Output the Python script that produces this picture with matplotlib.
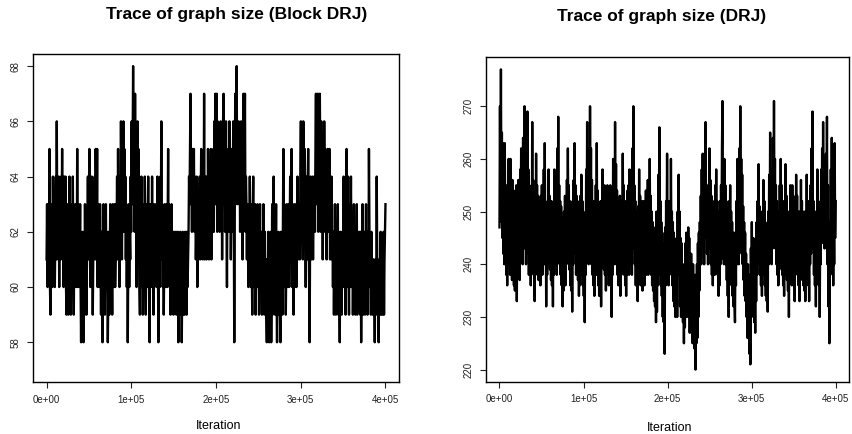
import matplotlib
matplotlib.use("Agg")
import matplotlib.pyplot as plt
import numpy as np

plt.rcParams['font.family'] = ['Liberation Sans', 'DejaVu Sans']

# graph size per stored MCMC sample, Block DRJ sampler
block_drj = [
    61, 63, 60, 62, 63, 61, 65, 60, 59, 62, 61, 63, 60, 64, 62, 61, 63, 60, 62, 64,
    61, 66, 62, 63, 61, 64, 60, 63, 62, 61, 64, 62, 65, 61, 63, 60, 64, 62, 61,
    64, 60, 59, 62, 61, 63, 59, 62, 64, 60, 61, 59, 63, 62, 60, 64, 61, 59, 62, 60,
    63, 61, 62, 60, 65, 61, 63, 60, 62, 61, 63, 60, 58, 61, 59, 62, 60, 58, 61, 59,
    63, 60, 62, 59, 61,
    62, 64, 61, 63, 65, 62, 60, 63, 61, 64, 62, 59, 61, 63, 62, 64, 61, 65, 63, 62,
    65, 60, 63, 61,
    62, 60, 63, 61, 59, 62, 60, 58, 61, 63, 60, 62, 59, 61, 63, 60, 62, 61, 58, 60,
    62, 59, 61, 63, 60, 62, 61, 59, 63, 60, 62, 61, 63, 60,
    61, 63, 62, 64, 61, 65, 62, 63, 60, 64, 62, 66, 63, 61, 64, 62, 66, 63, 65, 62,
    64, 61, 63, 60, 62, 58, 61, 63, 60, 62, 61, 64, 62, 66,
    63, 65, 68, 64, 66, 62, 67, 63, 65, 60, 64, 66, 62, 65,
    62, 60, 59, 63, 61, 64, 60, 62, 59, 61, 63, 60, 64, 62, 59, 61, 63, 60, 62, 64,
    61, 63, 58, 62, 60, 63, 61, 64, 60, 62, 59, 63, 61, 62,
    61, 63, 60, 62, 64, 61, 58, 62, 63, 60, 64, 62, 66, 61, 63, 60, 62, 59, 61, 63,
    60, 62, 61, 63, 60, 62, 65, 61, 63, 60, 62, 59, 61, 63, 60, 62, 61, 59, 62, 60,
    61,
    60, 62, 59, 61, 60, 62, 58, 61, 59, 60, 62, 59, 61, 58, 60, 62, 59, 61, 60, 59,
    62, 60, 61, 59, 62, 60, 61, 62,
    64, 63, 65, 67, 63, 64, 62, 65, 63, 64, 65, 62, 64, 63, 61, 62, 64, 60, 62, 61,
    63,
    62, 64, 61, 63, 65, 62, 64, 61, 63, 62, 67, 61, 64, 62, 63, 61, 64, 62, 65, 63,
    61, 64, 62, 63, 65, 61, 64, 62,
    63, 65, 62, 66, 64, 67, 63, 65, 67, 62, 66, 64, 63, 65, 62, 64, 66, 63, 65, 61,
    64, 66, 67, 63, 65, 62, 64, 66, 63, 60, 64, 62, 65, 63, 66, 62, 64, 61, 63, 65,
    62,
    64, 66, 63, 58, 63, 67, 64, 66, 68, 63, 65, 64, 66, 63, 65, 62, 64, 66, 63, 65,
    61, 64, 67, 63, 65, 67, 62, 64, 63, 61, 63,
    62, 60, 63, 61, 64, 62, 60, 63, 61, 59, 62, 64, 60, 62, 61, 63, 59, 61, 60, 62,
    63, 60, 62, 59, 61, 63, 60, 62, 61, 59, 62, 60, 63, 61, 59, 62, 60, 61,
    59, 58, 61, 59, 62, 60, 58, 61, 59, 62, 58, 60, 63, 59, 61, 64, 60, 62, 59, 61,
    63, 60, 58, 61, 59, 62, 60, 61, 59, 58, 62, 60, 61, 59,
    62, 65, 61, 63, 60, 62, 59, 61, 63, 60, 62, 61, 63, 60, 62, 64, 61, 63, 65, 60,
    62, 61, 59, 63, 60, 62, 61, 63, 60, 62, 64, 61, 63, 62,
    63, 61, 64, 66, 62, 65, 63, 61, 66, 64, 62, 65, 63, 60, 64, 62, 61, 63, 65, 62,
    60, 58, 62, 64, 61, 63, 62, 64, 61, 63, 62,
    64, 62, 65, 67, 63, 66, 64, 67, 62, 65, 63, 67, 64, 62, 66, 63, 65, 61, 64, 62,
    66, 63, 65, 62, 64, 61, 63, 65, 62, 64, 63, 65, 61, 63, 62, 64, 61, 62,
    60, 62, 59, 61, 63, 60, 59, 62, 60, 61, 63, 59, 61, 60, 58, 62, 60, 61, 59, 62,
    60,
    62, 64, 60, 61, 63, 59, 62, 65, 60, 62, 64, 61, 59, 63, 60, 62, 64, 61, 60, 62,
    59, 61, 63, 60, 62, 59, 61, 60, 63, 59, 62, 60, 61, 62,
    60, 59, 62, 58, 61, 60, 63, 59, 61, 62, 60, 59, 61, 63, 60, 62, 59, 61, 60, 65,
    62, 60, 61, 59, 62, 60, 61, 59,
    61, 59, 60, 58, 61, 59, 60, 64, 61, 59, 60, 58, 61, 59, 60, 62, 59, 61, 60, 59,
    61, 62, 59, 61, 62, 63,
]

# graph size per stored MCMC sample, DRJ sampler
drj = [
    247, 270, 252, 277, 248, 265, 245, 263, 242, 258, 240, 263, 244, 255, 238, 252, 236,
    255, 240, 260, 243, 254, 238, 260, 242, 253, 237, 256, 240, 252, 236, 250, 235, 254,
    240, 255, 233, 252, 238, 256, 241, 252, 237, 258, 243, 262, 245, 258, 240, 264, 246,
    257, 270,
    243, 262, 240, 260, 244, 269, 242, 258, 238, 255, 241, 252, 236, 254,
    240, 267, 243, 256, 238, 252, 233, 250, 238, 261, 242, 255, 240, 253, 237, 252, 240,
    250, 236,
    253, 241, 255, 238, 250, 243, 258, 240, 263, 244, 251, 232, 250, 238, 252, 241, 258,
    240, 253, 239, 250, 237, 252, 236, 248, 232, 250, 238,
    258, 240, 253, 241, 256, 238, 262, 243, 268, 245, 255, 240, 252, 238, 251, 236, 249,
    232, 248, 235, 250,
    238, 253, 236, 251, 240, 256, 242, 262, 244, 255, 239, 252, 236, 250, 235, 248, 231,
    252, 240, 256, 242, 263, 244, 255, 238, 253, 240, 252, 237, 250, 234, 248, 236, 253,
    240, 257, 238, 252,
    236, 250, 234, 247, 229, 248, 238, 258, 241, 267, 245, 262, 240, 258, 243, 270, 248,
    262, 240, 256, 238, 252, 236, 250, 234, 252, 240, 255, 238, 263, 242, 254, 236, 250,
    234, 247, 238, 252, 232, 250,
    240, 258, 242, 253, 239, 255, 238, 250, 235, 252, 240, 255, 238, 252, 236, 250, 237,
    255, 236, 248, 230, 250,
    238, 260, 242, 256, 240, 267, 243, 259, 240, 254, 238, 252, 236, 250, 238, 253, 234,
    250, 238,
    252, 240, 261, 242, 255, 238, 252, 236, 250, 234, 252, 238, 254, 240, 255, 238, 258,
    242, 253,
    240, 256, 238, 262, 244, 270, 243, 255, 240, 252, 236, 250, 237, 248, 233,
    251, 238, 258, 240, 253, 236, 250, 239, 252, 235, 250, 238, 252, 236, 250, 240, 254,
    238, 251, 240, 256, 238, 250,
    240, 260, 242, 253, 238, 250, 236, 248, 235, 247, 233, 246, 232, 242, 229,
    250, 231, 248, 236, 257, 240, 266, 238, 252, 236, 248, 234, 246, 230, 244, 229, 240,
    223,
    247, 236, 252, 240, 261, 243, 252, 236, 250, 238, 252, 240, 260, 242, 250, 236, 248,
    233, 246, 232, 244, 230, 242, 232, 245, 230,
    250, 238, 257, 240, 250, 232, 245, 230, 244, 233, 240, 229, 238, 225, 240, 228, 244,
    232, 246, 230, 241, 235, 247,
    230, 245, 227, 240, 230, 242, 227, 236, 225, 240, 228, 236, 224, 238, 220, 235, 225,
    240, 226, 244, 230, 246, 235, 248, 240, 253,
    240, 258, 244, 261, 245, 256, 240, 258, 245, 267, 247, 255, 242, 253, 240, 255, 243,
    262, 245, 256, 240, 253, 238, 250, 236, 248, 238, 252,
    238, 255, 240, 258, 242, 252, 238, 250, 234, 248, 236, 252, 240, 255, 244, 262, 271,
    241, 256, 240, 260, 244, 255, 240, 252, 237, 250, 234, 246, 230, 252, 240, 255, 238,
    250, 236, 248, 234, 244, 232, 246, 233, 229,
    245, 236, 252, 240, 260, 244, 256, 240, 262, 246, 270, 245, 260, 242, 257, 240, 251,
    237, 248, 234, 246, 233, 242, 230, 240, 226,
    240, 228, 235, 223, 238, 221, 243, 236, 248, 233, 245, 230, 243, 229, 240, 227, 245,
    233, 248, 238, 252, 240, 259, 242, 251, 238, 250, 236, 246, 234, 250, 238, 256, 240,
    252, 236, 248, 234, 247, 233, 245, 231, 250,
    240, 257, 242, 265, 245, 255, 240, 258, 243, 264, 247, 271, 248, 260, 243, 255, 240,
    252, 238, 250, 236, 248, 239, 255,
    240, 260, 243, 255, 238, 252, 236, 250, 234, 252, 238, 259, 242, 253, 237, 250, 235,
    248, 230, 250, 238, 255, 240, 250, 236, 255,
    240, 253, 236, 250, 233, 252, 240, 257, 242, 253, 238, 250, 236, 248, 233, 250, 240,
    256, 241, 252, 237, 250, 236, 248, 235, 250, 233, 247,
    238, 257, 240, 252, 236, 250, 233, 252, 240, 255, 242, 262, 245, 269, 243, 252, 238,
    250, 236, 248, 232,
    250, 240, 258, 242, 252, 236, 250, 230, 248, 240, 258, 244, 262, 246, 267, 247, 260,
    243, 252,
    245, 261, 247, 268, 240, 255, 232, 248, 225, 245, 238, 258, 242, 264, 240, 255, 236,
    253, 240, 263, 245, 252,
]

n_iter = 400000
xticks = [0, 100000, 200000, 300000, 400000]
xticklabels = ["0e+00", "1e+05", "2e+05", "3e+05", "4e+05"]

fig = plt.figure(figsize=(8.53, 4.34), dpi=100)
ax1 = fig.add_axes([0.0387, 0.1198, 0.4291, 0.7558])
ax2 = fig.add_axes([0.5698, 0.1205, 0.4256, 0.7475])


def trace(ax, values, ylim, yticks):
    x = np.linspace(0, n_iter, len(values))
    ax.plot(x, values, color="black", lw=1.7)
    ax.set_xlim(-16000, 416000)
    ax.set_ylim(*ylim)
    ax.set_xticks(xticks)
    ax.set_xticklabels(xticklabels)
    ax.set_yticks(yticks)
    ax.set_yticklabels([str(t) for t in yticks], rotation=90, va="center")
    ax.tick_params(length=4, width=0.8, labelsize=7, colors="#222222", pad=5)
    for s in ax.spines.values():
        s.set_linewidth(1.0)


trace(ax1, block_drj, (56.56, 68.44), [58, 60, 62, 64, 66, 68])
trace(ax2, drj, (217.7, 279.3), [220, 230, 240, 250, 260, 270])

fig.text(236.5 / 853, 1 - 15 / 434, "Trace of graph size (Block DRJ)",
         ha="center", va="center", fontsize=12.5, fontweight="bold")
fig.text(662 / 853, 1 - 17 / 434, "Trace of graph size (DRJ)",
         ha="center", va="center", fontsize=12.5, fontweight="bold")
fig.text(219 / 853, 1 - 426 / 434, "Iteration", ha="center", va="center",
         fontsize=9)
fig.text(669.5 / 853, 1 - 428 / 434, "Iteration", ha="center", va="center",
         fontsize=9)

fig.savefig("out.png", dpi=100)
